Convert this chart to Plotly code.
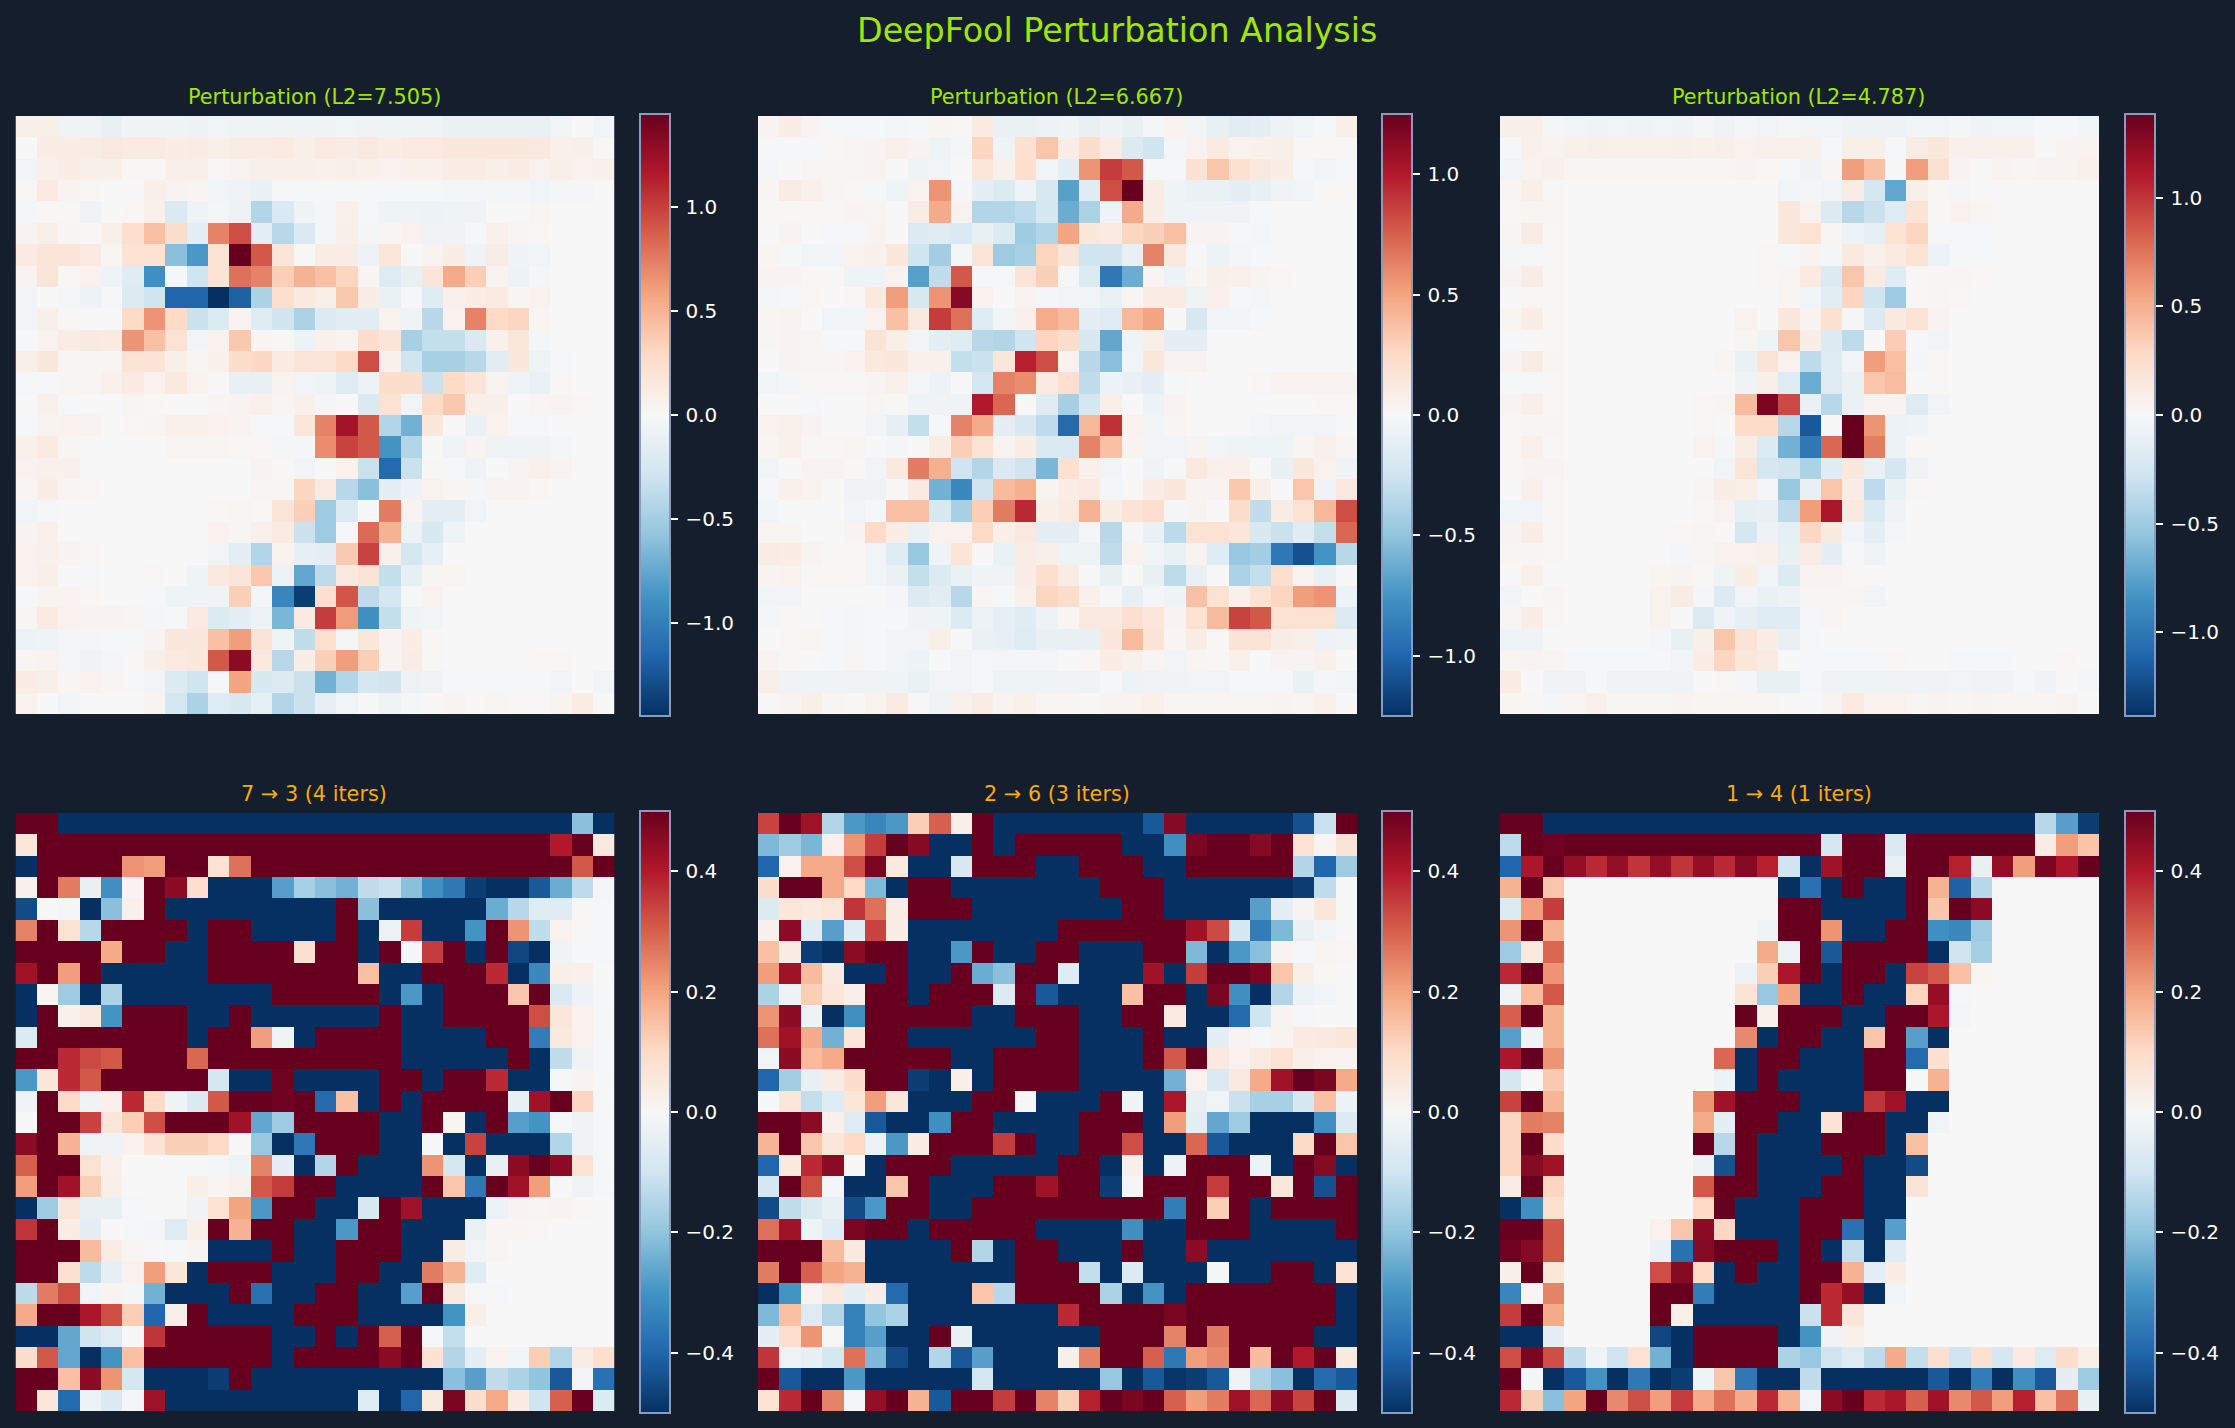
import plotly.graph_objects as go

# All heatmap values are percent of the panel's colour limit.
PERT_A = [
[6,6,-5,-5,-8,-5,-5,-4,-6,-3,-5,-4,-5,-4,-5,-3,-4,-4,-5,-5,-7,-7,-7,-7,-7,-3,0,-3],
[0,7,7,8,10,9,9,7,8,6,8,8,9,6,9,8,10,7,9,9,11,11,11,11,10,5,6,1],
[-3,5,7,6,6,1,1,6,6,1,3,6,6,6,5,6,5,4,5,5,8,8,6,7,4,6,4,5],
[1,9,3,1,0,0,6,3,2,-3,-4,-7,-1,-1,-1,-1,-1,-1,-1,-1,-2,-2,-2,-2,-3,-2,-2,0],
[-2,1,1,-4,0,1,5,-15,-4,-2,-6,-30,-15,-5,-2,5,-1,-5,-5,-6,-5,-4,0,0,2,0,0,0],
[3,6,2,1,6,17,30,18,-10,50,65,-10,-28,-15,-2,6,-2,2,4,-4,-4,-1,5,2,1,0,0,0],
[9,13,13,9,2,15,15,-42,-58,15,100,62,13,1,8,8,-6,12,0,3,7,-5,8,-4,-3,0,0,0],
[3,13,1,4,-4,-12,-62,-1,-20,15,55,50,25,35,30,22,2,-13,-8,13,38,25,3,-6,-2,0,0,0],
[-3,0,-2,-6,-1,-14,-20,-80,-80,-100,-82,-32,17,10,6,27,7,-7,-1,-12,5,7,9,2,4,0,0,0],
[-3,6,1,0,0,20,45,20,-22,-14,3,-12,-20,-32,-14,-11,-11,4,-5,-28,4,50,20,22,2,0,0,0],
[-1,4,8,10,9,45,30,15,-3,4,27,2,1,-6,5,3,18,13,-33,-24,-24,-15,5,12,-2,0,0,0],
[6,11,2,2,2,14,14,6,2,5,18,21,9,13,13,20,65,5,-20,-33,-33,-28,-11,11,-5,-1,0,0],
[-1,-1,2,2,5,9,4,10,4,0,-8,-8,3,-3,-5,-13,-6,18,18,-22,20,13,3,-5,-7,1,0,0],
[0,5,-1,0,0,2,1,0,0,2,3,5,2,5,-2,0,-15,15,-3,20,27,6,6,0,2,3,1,0],
[-1,3,4,3,0,1,2,5,5,4,3,-1,-1,12,50,84,62,-30,-48,11,0,-7,4,-1,-1,0,0,0],
[5,9,2,0,0,0,0,2,2,2,1,1,-2,-2,47,68,62,-60,-30,0,-4,3,-4,-5,-4,-2,0,0],
[4,5,5,0,0,0,0,0,0,0,0,3,1,-3,0,4,-22,-78,-22,1,-1,-5,0,3,5,3,0,0],
[2,7,2,1,0,0,0,0,0,0,0,2,2,22,9,-28,-42,-10,-6,4,2,-2,3,3,1,0,0,0],
[-3,-1,0,0,0,0,0,0,0,1,2,1,13,24,-36,-14,0,52,3,-10,-10,-3,0,0,0,0,0,0],
[3,5,0,0,0,0,0,0,0,4,2,5,9,-22,-36,-1,57,35,-6,-16,-5,0,0,0,0,0,0,0],
[4,5,3,1,0,0,0,0,0,-3,-10,-30,4,-9,-10,26,68,5,-18,-9,0,0,0,0,0,0,0,0],
[4,6,0,-1,0,0,1,0,-5,10,13,27,-6,-52,-26,10,14,-24,-9,2,2,0,0,0,0,0,0,0],
[-1,3,3,1,0,0,-1,-5,-4,-4,24,-2,-66,-95,17,63,-26,-18,-1,4,0,0,0,0,0,0,0,0],
[2,9,4,3,3,2,-2,-1,9,-14,-10,-6,-46,9,70,43,-62,-24,-5,-3,0,0,0,0,0,0,0,0],
[-6,-5,-2,-2,-1,-1,3,11,11,30,42,14,-5,-25,16,-2,12,3,7,1,0,0,0,0,0,0,0,0],
[2,3,-2,-4,-2,1,6,9,11,62,90,10,-28,7,24,42,25,3,8,1,0,0,0,0,1,1,0,0],
[7,6,2,4,2,-1,-3,-14,-20,-1,40,-16,-14,-22,-48,-30,-18,-19,-6,-4,-1,-1,-1,-1,-1,-3,0,-3],
[4,0,-3,0,0,0,3,-18,-32,-13,-16,-9,-30,-22,-9,-3,0,-5,-2,1,3,1,2,1,1,3,7,1],
]

PERT_B = [
[3,7,3,-1,-1,-1,-2,-1,2,1,9,-7,-7,-6,-5,-8,-6,-8,-2,4,-3,-8,-11,-10,-6,-3,-1,6],
[-1,-1,-1,1,2,3,5,3,-5,-2,22,-5,16,28,7,18,8,-14,-20,-2,4,9,4,5,6,1,1,1],
[-2,0,2,2,2,3,0,-5,-3,0,12,5,17,-3,-10,45,70,62,-1,-1,15,28,16,10,7,-1,-3,-1],
[2,8,5,2,1,-1,-5,4,45,-2,-10,-14,-5,-17,-55,-12,65,100,8,-5,-7,-7,-10,-8,-4,-3,1,1],
[1,1,1,1,3,2,0,8,38,4,-30,-30,-26,-18,-50,-32,-4,38,7,-5,-4,-4,-4,-1,0,0,0,0],
[0,3,0,-1,-1,3,0,-14,-13,-15,-8,-14,-36,-30,40,11,9,22,24,30,3,3,-1,-2,0,0,0,0],
[2,-1,-3,-3,4,5,11,-20,-35,-2,13,-36,-33,22,13,-20,-20,-8,50,10,-1,-6,-2,-1,0,0,0,0],
[3,3,1,1,-5,-5,4,-55,-25,62,-1,-1,14,24,-1,-14,-72,-50,2,-6,2,6,5,3,1,0,0,0],
[-2,-1,1,0,1,10,42,-16,45,92,4,0,3,-2,-3,-3,-7,2,8,8,-5,5,-1,-2,0,0,0,0],
[2,3,0,-3,-3,4,30,10,70,55,-13,-3,5,37,32,-10,-13,33,40,0,-17,-3,-3,-1,0,0,0,0],
[2,3,2,-1,-1,14,6,-3,-10,-13,-28,-30,-20,22,18,-16,-52,-5,6,-10,-10,0,0,0,0,0,0,0],
[0,3,2,2,4,10,11,5,5,-24,-22,12,78,65,4,-28,-42,-3,11,3,3,0,0,0,0,0,0,0],
[-3,-2,1,1,1,3,5,-2,-6,0,-18,50,47,9,17,-25,-6,-8,-10,-1,0,0,0,1,3,3,3,3],
[0,0,-1,0,0,2,1,-5,-4,-4,80,58,0,-12,-34,-18,6,0,-6,3,0,0,0,0,0,0,1,1],
[4,5,3,0,0,-3,-9,-24,-1,50,38,-10,-16,-26,-78,33,73,4,-3,2,0,0,0,-2,-3,-3,-3,0],
[2,5,1,1,2,0,-2,0,8,24,14,3,7,-15,-15,50,30,3,-3,-3,3,-3,-4,-5,-5,2,5,2],
[-3,0,3,3,1,-3,10,52,36,-20,-30,-15,-20,-46,16,5,-3,0,-4,-1,10,5,5,0,-8,11,4,-4],
[-1,5,3,0,-4,-4,1,9,-48,-65,-20,32,36,3,7,9,-2,1,7,11,3,3,27,6,0,28,-4,10],
[-3,-1,0,0,-3,-1,30,30,-17,-33,25,52,75,6,9,35,8,14,17,-2,3,0,18,-25,8,15,33,65],
[2,2,0,0,3,20,7,-7,4,4,20,6,10,-10,-10,-2,-28,-2,-7,-27,15,15,12,-16,-22,-12,-24,58],
[8,7,3,1,1,-3,-12,-38,-5,13,0,-7,8,6,-5,-5,-25,4,-3,-7,3,-12,-38,-35,-72,-88,-60,-28],
[3,4,1,1,1,-3,-7,-24,-14,-7,-4,-4,8,17,8,-1,-8,0,-8,-26,-8,0,-32,-24,17,4,-8,0],
[-3,-3,0,0,0,0,-2,-14,-11,-28,2,-1,5,22,18,5,-1,-9,-2,-5,30,15,5,15,22,42,45,-6],
[-2,1,0,-1,-2,-1,-1,-4,-5,-14,-6,-9,-12,-6,2,10,10,17,12,3,15,32,68,62,15,15,15,-14],
[0,1,2,-1,-2,-1,-3,-3,6,0,-7,-9,-13,-8,-8,-8,11,32,14,2,7,1,14,14,7,6,-6,-4],
[3,1,0,-1,2,-1,-3,-6,0,-3,-1,-2,-2,-2,0,1,7,5,2,-3,2,1,5,0,3,3,5,0],
[6,-4,-5,-4,-4,-4,-5,-7,-3,-3,-1,-5,-5,-5,-4,-4,-1,-6,-4,-4,-3,-3,-1,-1,-1,-7,-2,-3],
[1,3,6,2,1,4,9,1,-4,5,8,3,5,2,2,1,3,3,5,2,2,2,2,2,3,2,5,0],
]

PERT_C = [
[6,6,-2,-3,-4,-3,-4,-3,-4,-2,-4,-2,-3,-2,-3,-3,-6,-6,-6,-3,-3,-2,-4,-3,-3,-1,-1,-3],
[-1,5,3,5,6,5,5,5,6,5,6,4,5,5,5,-1,6,6,-1,8,11,5,5,5,5,0,3,3],
[-3,3,5,2,2,2,2,2,2,2,2,3,1,-1,-4,2,42,30,0,42,16,3,0,3,2,3,3,5],
[2,6,1,0,0,0,0,0,0,0,0,0,0,-3,-2,-3,8,-18,-52,6,1,-2,0,0,0,0,0,0],
[1,2,2,0,0,0,0,0,0,0,0,0,0,11,4,-14,-28,-22,-13,14,1,4,2,0,0,0,0,0],
[2,8,1,0,0,0,0,0,0,0,0,0,0,11,15,2,-6,-9,15,22,-1,-1,-1,0,0,0,0,0],
[-2,-1,1,0,0,0,0,0,0,0,0,0,1,-1,3,-2,10,5,9,14,-6,-1,-1,0,0,0,0,0],
[3,8,1,0,0,0,0,0,0,0,0,0,1,2,9,-14,28,9,-12,1,2,2,1,0,0,0,0,0],
[0,1,1,0,0,0,0,0,0,0,0,0,0,2,-3,-11,22,-20,-36,1,2,1,0,0,0,0,0,0],
[2,7,1,0,0,0,0,0,0,0,0,4,0,11,3,16,-2,-14,10,14,3,0,0,0,0,0,0,0],
[-1,0,1,0,0,0,0,0,0,0,0,2,-5,28,7,-14,-26,0,25,-1,-3,0,0,0,0,0,0,0],
[3,8,2,0,0,0,0,0,0,0,2,-7,14,4,-26,-13,-3,42,30,-2,1,0,0,0,0,0,0,0],
[-1,-1,1,0,0,0,0,0,0,0,0,-4,6,-13,-50,-13,-7,28,31,0,1,0,0,0,0,0,0,0],
[3,6,1,0,0,0,0,0,0,1,2,32,95,66,-7,-28,-7,3,3,-13,-3,0,0,0,0,0,0,0],
[1,2,2,0,0,0,0,0,0,1,0,19,19,-28,-85,0,100,45,-6,-4,0,0,0,0,0,0,0,0],
[1,5,1,0,0,0,0,0,0,4,-2,8,-14,-48,-72,58,100,52,-6,1,0,0,0,0,0,0,0,0],
[1,3,3,0,0,0,0,0,0,0,-3,13,-18,-20,-32,-12,11,-7,-18,-4,0,0,0,0,0,0,0,0],
[0,5,1,0,0,0,0,0,0,2,7,6,-2,-38,-8,28,7,-26,-7,1,0,0,0,0,0,0,0,0],
[-3,-3,1,0,0,0,0,0,0,1,4,-9,-8,-26,42,82,10,-15,-4,0,0,0,0,0,0,0,0,0],
[3,7,1,0,0,0,0,0,1,2,1,-18,-6,-9,21,10,-3,-10,-2,0,0,0,0,0,0,0,0,0],
[2,2,1,0,0,0,0,0,-2,2,4,4,5,-8,8,-10,-1,-5,0,0,0,0,0,0,0,0,0,0],
[0,5,0,0,0,0,0,2,3,1,-5,7,-3,-14,3,3,1,0,0,0,0,0,0,0,0,0,0,0],
[-3,0,2,0,0,0,0,4,8,-2,-14,-3,-7,-6,2,2,2,-3,0,0,0,0,0,0,0,0,0,0],
[2,7,1,0,0,0,0,4,0,-14,-4,-9,-12,-12,-1,2,0,0,0,0,0,0,0,0,0,0,0,0],
[-5,-4,0,0,0,0,0,-2,-8,6,28,14,7,-8,-1,0,0,0,0,0,0,0,0,0,0,0,0,0],
[2,3,2,-1,-1,-1,-1,-1,-3,7,22,12,9,0,-1,-1,-1,-1,1,0,0,-1,-1,-1,0,0,1,0],
[7,0,-4,-4,-1,-4,-4,-4,-4,0,1,-2,-8,-8,-1,-4,-5,-5,-4,-4,-4,-3,-4,-4,-1,-4,0,-2],
[2,1,-2,2,5,2,2,2,3,2,2,2,2,1,0,3,9,4,4,2,3,2,3,2,2,2,3,0],
]

DELTA_A = [
[100]*2+[-100]*24+[-42,-100],
[12]+[100]*24+[80,100,10],
[-100,100,100,100,100,45,42,100,100,15,55]+[100]*15+[62,100],
[5,100,52,-8,-62,3,100,90,17,-100,-100,-100,-55,-33,-42,-48,-25,-22,-42,-62,-72,-95,-100,-100,-85,-50,-26,-2],
[-90,0,-2,-100,-42,5,100]+[-100]*8+[100,-42]+[-100]*5+[-50,-28,-12,-12,1,-1],
[50,100,15,-28,100,100,100,100,-100,100,100,-100,-100,-100,-100,100,-100,-6,70,-100,-100,-60,100,45,-25,4,1,-1],
[100,100,100,100,38,100,100,-100,-100,100,100,100,100,17,100,100,-100,100,-2,70,100,-100,100,-92,-100,-5,-1,-1],
[85,100,42,100]+[-100]*5+[100]*7+[30,-100,-100,100,100,100,75,-100,-65,6,5,0],
[-100,2,-36,-100,-32]+[-100]*7+[100]*5+[-100,-58,-100,100,100,100,28,100,-15,-6,-1],
[-100,100,5,10,-60,100,100,100,-100,-100,100]+[-100]*6+[100,-100,-100,100,100,100,100,65,12,4,-1],
[-14]+[100]*7+[-100,100,100,42,-5,-100,100,100,100,100,-100,-100,-100,-100,100,100,-70,10,4,-1],
[100,100,75,66,62,100,100,100,58]+[100]*9+[-100]*5+[100,-100,-25,-5,-1],
[-58,12,75,62,100,100,100,100,100,-18,-100,-100,98,-100,-100,-100,-100,100,100,-100,100,100,75,-100,-100,-1,3,-1],
[-4,100,20,-4,5,75,20,-5,-15,62,100,100,98,100,-78,30,-100,100,-100,100,100,100,100,-8,85,100,22,-1],
[0,100,100,68,12,25,65,100,100,100,85,-52,-36,100,100,100,100,-100,-100,100,2,-100,100,-55,-60,-1,-4,-1],
[90,100,35,-5,-4,4,14,24,24,20,0,-38,-100,-72,100,100,100,-100,-100,0,-100,68,-100,-100,-100,-30,-4,-1],
[60,100,100,15,5,0,0,0,0,-2,-5,50,-10,-100,-30,100,-100,-100,-100,45,-18,-100,-8,90,100,90,15,-1],
[42,100,85,25,6,0,0,0,6,2,5,62,70,100,100,-100,-100,-100,-100,100,28,-72,100,85,42,0,-4,-1],
[-100,-36,12,-8,-8,-1,0,0,-4,15,40,-58,100,100,-100,-100,-16,100,85,-100,-100,-100,-6,3,2,3,1,0],
[72,100,8,-10,0,-1,-2,-13,6,100,35,100,100,-100,-100,-58,100,100,-100,-100,-100,-7,2,2,1,0,0,0],
[100,100,100,32,8,2,0,-1,3,-100,-100,-100,100,-100,-100,100,100,100,-100,-100,8,-3,2,0,0,0,0,0],
[100,100,16,-26,-9,4,42,12,-100,100,100,100,-100,-100,-100,100,100,-100,-100,52,35,-12,0,0,0,0,0,0],
[-27,52,65,-3,3,-2,-48,-100,-100,-100,100,-75,-100,-100,100,100,-100,-100,-55,100,10,-1,-1,0,0,0,0,0],
[38,100,100,82,65,25,-80,6,100,-100,-100,-100,-100,100,100,100,-100,-100,-100,-100,-60,6,0,0,0,0,0,0],
[-100,-100,-52,-20,-13,0,72,100,100,100,100,100,-100,-100,100,-100,100,60,100,-1,-24,0,0,0,0,0,0,0],
[18,62,-52,-100,-60,30,100,100,100,100,100,100,-100,100,100,100,100,90,100,15,-30,-10,4,-3,25,-30,8,17],
[100,100,30,90,45,-18,-100,-100,-100,-95,100]+[-100]*9+[-42,-55,-25,-32,-40,-85,-3,-75],
[100,12,-78,-6,-15,-2,85]+[-100]*9+[-12,-100,-80,10,95,18,38,9,-20,60,100,-14],
]

DELTA_B = [
[68,100,85,-30,-58,-66,-58,25,60,6,100]+[-100]*7+[-85,92]+[-100]*5+[-88,-22,100],
[-45,-36,-46,5,45,70,100,92,-100,-100,100,-100,100,100,100,100,100,-100,-100,-62,95,100,100,92,100,14,2,14],
[-80,4,38,38,65,95,10,-100,-100,-16,100,100,100,-100,-100,100,100,100,-100,-100,100,100,100,100,100,-30,-80,-36],
[18,100,100,38,20,-45,-100,100,100]+[-100]*7+[100,100,100]+[-100]*6+[-95,-25,0],
[-14,12,10,12,72,55,8,100,100,100]+[-100]*7+[100,100,-100,-100,-100,-100,-55,-10,3,12,0],
[5,90,-12,-55,-12,68,7]+[-100]*7+[100]*6+[85,66,-18,-70,-45,-7,-3,0],
[30,8,-95,-100,90,100,100,-100,-100,-58,100,-100,-100,100,100,-100,-100,-100,100,100,-45,-100,-58,-42,3,-1,2,1],
[42,85,32,10,-100,-100,100,-100,-100,100,-50,-42,100,100,-12,-100,-100,-100,85,-100,70,100,100,95,28,6,1,0],
[-32,-6,25,12,6,100,100,-100,100,100,100,-14,98,-85,-100,-100,-100,30,100,100,-100,95,-62,-100,-30,-6,-3,0],
[45,90,-6,-100,-62,100,100,100,100,100,-100,-100,100,100,100,-100,-100,100,100,9,-100,-100,-78,-20,3,-1,0,0],
[55,85,38,-48,12,100,100]+[-100]*6+[100,100,-100,-100,-100,100,-100,-100,-10,3,-1,3,9,10,12],
[-3,90,32,38,100,100,100,100,100,-100,-100,100,100,100,100,-100,-100,-100,100,62,100,10,4,9,15,6,4,3],
[-80,-35,-8,8,18,100,100,-95,-100,6,-100,100,100,100,100,-100,-100,-100,-100,-48,4,-15,10,38,85,100,95,38],
[0,12,-24,-12,12,42,12,-100,-100,-100,100,100,0,-100,-100,-100,100,-4,-100,82,-8,-3,-22,-33,-33,-18,30,-6],
[100,100,90,5,-13,-85,-100,-100,-62,100,100,-100,-100,-100,-100,100,100,100,-100,42,-10,-52,-36,-100,-100,-100,-62,-14],
[34,100,28,12,20,-6,-58,8,100,100,100,70,100,-100,-100,100,100,65,-100,-100,58,-85,-100,-100,-100,20,100,28],
[-80,10,75,90,0,-100,100,100,100,-100,-100,-100,-100,-100,100,100,-100,6,-100,-6,100,100,100,-6,-100,100,92,-100],
[-18,100,65,-2,-100,-100,28,100,-100,-100,-100,100,100,85,100,100,-95,-2,100,100,100,70,100,100,12,100,-88,100],
[-90,-25,-15,-8,-90,-58,100,100,-100,-100]+[100]*9+[-70,100,25,100,-100,100,100,100,100],
[55,85,-5,-12,95,100,100,-100,100,100,100,100,100,-100,-100,-100,-100,-62,-100,-100,100,100,100,-100,-100,-100,-100,100],
[100,100,100,32,10,-100,-100,-100,-100,100,-30,-100,100,100,-100,-100,-100,100,-100,-100,90]+[-100]*7,
[52,100,60,40,35]+[-100]*7+[100,100,100,-24,-100,-14,-100,-100,-100,-2,-100,-100,100,100,-100,14],
[-100,-60,3,10,-10,7,-78,-100,-100,-100,28,-28,100,100,100,100,-32,-100,-60,-100]+[100]*7+[-100],
[-45,30,-13,-30,-68,-40,-32]+[-100]*7+[75,100,100,100,100,95]+[100]*7+[-100],
[-10,17,45,1,-68,-55,-100,-100,100,-8]+[-100]*6+[100,100,100,50,100,52,100,100,100,100,-100,-100],
[72,-5,-9,-18,55,-45,-90,-100,-30,-85,-55,-100,-100,-100,6,50,100,100,60,-72,42,48,100,32,100,80,100,10],
[100,-85,-100,-100,-58]+[-100]*5+[-18]+[-100]*5+[-38,-100,-85,-98,-95,-85,-4,-32,-42,-100,-78,-85],
[15,75,100,50,-2,88,100,35,-85,100,100,70,100,50,25,78,100,95,100,60,42,52,85,58,90,68,100,-14],
]

DELTA_C = [
[100,100]+[-100]*23+[-28,-55,-95],
[-26,100,98]+[100]*12+[-18,100,100,-15]+[100]*6+[8,42,28],
[-80,82,100,88,75,88,72,88,72,88,75,92,78,-20,-100,85,100,100,-8,100,100,78,-8,88,42,95,82,100],
[35,100,28]+[0]*10+[-100,-75,-100,100,-100,-100,100,35,-82,-28]+[0]*5,
[-14,42,70]+[0]*10+[100,100,-100,-100,-100,-100,100,28,100,90]+[0]*5,
[45,100,35]+[0]*9+[-5,100,100,45,-100,-100,100,100,-62,-65,-36]+[0]*5,
[-36,10,58]+[0]*9+[38,-6,100,-85,100,100,100,100,-100,-20,-34]+[0]*5,
[75,100,45]+[0]*8+[-6,24,82,100,-100,100,100,-100,68,62,30,2]+[0]*5,
[-4,32,62]+[0]*8+[14,-38,40,-100,-100,100,-100,-100,22,88,-1]+[0]*6,
[60,100,35]+[0]*8+[100,5,100,100,100,-100,-100,100,100,82,-2]+[0]*6,
[-55,-4,35]+[0]*8+[48,-100,100,100,-100,-100,28,100,-55,-100]+[0]*7,
[82,100,45]+[0]*7+[58,-100,100,100,-100,-100,-100,100,100,-78,16]+[0]*7,
[-18,0,26]+[0]*7+[-6,-100,100,-100,-100,-100,-100,100,100,0,35]+[0]*7,
[68,100,34]+[0]*6+[45,85,100,100,100,-100,-100,-100,72,85,-100,-100]+[0]*7,
[22,52,50]+[0]*6+[38,-10,100,100,-100,-100,14,100,100,-100,-100,-3]+[0]*7,
[22,100,18]+[0]*6+[100,-28,100,-100,-100,-100,100,100,100,-100,30]+[0]*8,
[22,92,85]+[0]*6+[-6,-88,100,-100,-100,-100,-100,100,-100,-100,-90]+[0]*8,
[8,100,22]+[0]*6+[62,100,100,-100,-100,-100,100,100,-100,-100,14]+[0]*8,
[-100,-62,16]+[0]*6+[20,100,-100,-100,-100,100,100,100,-100,-100]+[0]*9,
[100,100,62,0,0,0,0,4,28,90,22,-100,-100,-100,100,100,-75,-100,-55]+[0]*9,
[98,92,62,0,0,0,0,-7,-75,92,100,100,100,-100,100,-100,-24,-100,-12]+[0]*9,
[6,100,12,0,0,0,0,65,92,20,-100,100,-100,-100,100,100,35,-10,7]+[0]*9,
[-66,2,50,0,0,0,0,100,100,-70,-100,-100,-100,-100,100,75,88,-100,-3]+[0]*9,
[70,100,38,0,0,0,0,100,5,-100,-100,-100,-100,-100,-22,75,13]+[0]*11,
[-100,-100,-10,0,0,0,0,-92,-100,100,100,100,100,-100,-60,-4,5]+[0]*11,
[65,95,65,-25,-4,-20,15,-48,-100,100,100,100,100,-32,-38,-20,-13,-26,38,-24,17,-20,16,-18,9,-13,18,6],
[100,-2,-100,-85,-60,-100,-72,-100,-95,-5,28,-72,-100,-100,-25,-100,-100,-100,-100,-100,-85,-100,-70,-100,-62,-85,-10,-36],
[75,25,-42,40,100,48,65,42,70,38,55,38,75,35,-3,90,100,75,82,60,85,48,62,42,78,30,55,-8],
]

PANELS = [PERT_A, PERT_B, PERT_C, DELTA_A, DELTA_B, DELTA_C]
LIMITS = [1.45, 1.25, 1.386, 0.5, 0.5, 0.5]
TITLES = ["Perturbation (L2=7.505)", "Perturbation (L2=6.667)", "Perturbation (L2=4.787)",
          "7 → 3 (4 iters)", "2 → 6 (3 iters)", "1 → 4 (1 iters)"]
TICKS = [[-1, -0.5, 0, 0.5, 1]] * 3 + [[-0.4, -0.2, 0, 0.2, 0.4]] * 3
TICK_TEXT = [["\u2009−1.0", "\u2009−0.5", "\u20090.0", "\u20090.5", "\u20091.0"]] * 3 + \
            [["\u2009−0.4", "\u2009−0.2", "\u20090.0", "\u20090.2", "\u20090.4"]] * 3
SUPTITLE = "DeepFool Perturbation Analysis"

W, H = 2235, 1428
BG = "#141e2d"
LIME = "#a2e600"
ORANGE = "#ffaa00"
EDGE = "#8a9bbd"
X0 = [15.5, 758, 1500]
CB0 = [640, 1382, 2125]
Y0 = [116, 813]
SIDE_X = 599
SIDE_Y = 598
CB_LEN = 601.5

fig = go.Figure()
annots = []
for i, panel in enumerate(PANELS):
    c, r = i % 3, i // 3
    lim = LIMITS[i]
    z = [[v * lim / 100 for v in row] for row in panel]
    ax = "" if i == 0 else str(i + 1)
    fig.add_trace(go.Heatmap(
        z=z, zmin=-lim, zmax=lim, colorscale="RdBu_r", xaxis="x" + ax, yaxis="y" + ax,
        hoverinfo="skip", xgap=0, ygap=0,
        colorbar=dict(
            x=CB0[c] / W, xanchor="left", xpad=0, ypad=0, thickness=30, thicknessmode="pixels",
            y=1 - (Y0[r] + SIDE_Y / 2) / H, yanchor="middle", len=CB_LEN / H, lenmode="fraction",
            outlinecolor=EDGE, outlinewidth=2, borderwidth=0,
            tickmode="array", tickvals=TICKS[i], ticktext=TICK_TEXT[i], ticks="outside", ticklen=7,
            tickwidth=1.5, tickcolor="white", tickfont=dict(color="white", size=20, family="DejaVu Sans"),
        ),
    ))
    fig.layout["xaxis" + ax] = dict(domain=[X0[c] / W, (X0[c] + SIDE_X) / W], visible=False,
                                    range=[-0.5, 27.5], anchor="y" + ax)
    fig.layout["yaxis" + ax] = dict(domain=[1 - (Y0[r] + SIDE_Y) / H, 1 - Y0[r] / H], visible=False,
                                    range=[27.5, -0.5], anchor="x" + ax)
    annots.append(dict(text=TITLES[i], x=(X0[c] + SIDE_X / 2 - 1) / W, y=1 - (Y0[r] - 19) / H, xref="paper", yref="paper",
                       xanchor="center", yanchor="middle", showarrow=False,
                       font=dict(color=LIME if r == 0 else ORANGE, size=20.8, family="DejaVu Sans")))
annots.append(dict(text=SUPTITLE, x=(W / 2 - 1) / W, y=1 - 30 / H, xref="paper", yref="paper", xanchor="center", yanchor="middle",
                   showarrow=False, font=dict(color=LIME, size=33.3, family="DejaVu Sans")))

fig.update_layout(width=W, height=H, margin=dict(l=0, r=0, t=0, b=0), paper_bgcolor=BG, plot_bgcolor=BG,
                  annotations=annots, showlegend=False)
fig.write_html("out.html", config={"displayModeBar": False},
               post_script="document.body.style.margin='0';document.body.style.background='%s';" % BG)
